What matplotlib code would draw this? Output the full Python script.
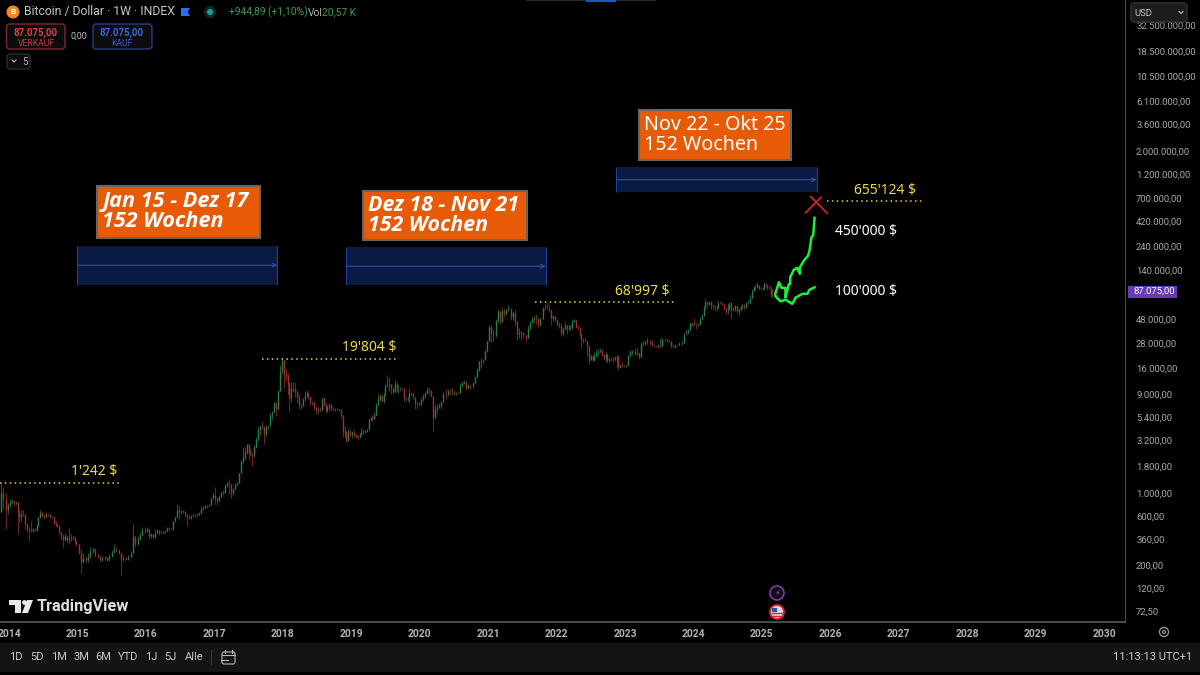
import numpy as np
import matplotlib
matplotlib.use('Agg')
import matplotlib.pyplot as plt
from matplotlib.patches import Rectangle, FancyBboxPatch, Circle, Polygon

# biweekly candles: (close, high, low)
rows_2013 = [(1000, 1242, 760), (870, 1150, 690), (680, 1000, 450), (760, 800, 620)]
rows_2014 = [(810, 880, 730), (830, 880, 780), (800, 860, 740), (810, 830, 760), (650, 720, 400), (580, 680, 520),
             (620, 680, 540), (630, 680, 600), (500, 640, 450), (450, 510, 420), (440, 480, 340), (430, 540, 420),
             (445, 460, 420), (440, 460, 425), (490, 500, 430), (580, 590, 480), (650, 680, 570), (600, 650, 590),
             (590, 620, 560), (625, 650, 590), (620, 640, 600), (590, 630, 570), (590, 600, 570), (510, 600, 490),
             (500, 530, 480), (480, 500, 470), (420, 490, 400), (380, 430, 350), (350, 400, 300), (385, 410, 340),
             (350, 390, 330), (370, 460, 320), (375, 400, 340), (370, 390, 350), (345, 380, 320), (320, 340, 310)]
rows_2015 = [(265, 300, 255), (215, 290, 166), (235, 265, 210), (225, 245, 215), (240, 265, 215), (275, 300, 235),
             (290, 300, 265), (250, 295, 240), (245, 265, 235), (225, 240, 215), (235, 245, 220), (240, 245, 225),
             (225, 240, 220), (245, 255, 220), (270, 280, 240), (290, 320, 265), (280, 300, 270), (265, 285, 255),
             (230, 270, 162), (235, 250, 220), (230, 240, 225), (240, 250, 225), (265, 275, 240), (380, 500, 300),
             (320, 385, 300), (360, 380, 315), (390, 420, 350), (435, 470, 390), (430, 465, 415)]
rows_2016 = [(450, 465, 420), (380, 460, 360), (400, 410, 365), (375, 395, 365), (410, 450, 365), (435, 445, 410),
             (415, 430, 395), (415, 425, 410), (420, 425, 410), (430, 440, 415), (460, 470, 430), (450, 470, 440),
             (445, 460, 435), (530, 540, 440), (580, 590, 525), (680, 780, 570), (650, 760, 550), (665, 680, 630),
             (660, 680, 640), (620, 665, 580), (590, 620, 480), (575, 600, 560), (600, 610, 565), (610, 625, 600),
             (610, 620, 590), (615, 640, 605), (640, 660, 620), (700, 740, 640), (720, 740, 690), (745, 770, 720),
             (740, 760, 720), (770, 790, 740), (890, 900, 770), (950, 1000, 880)]
rows_2017 = [(900, 1150, 780), (830, 920, 770), (920, 950, 880), (1010, 1030, 910), (1000, 1060, 960),
             (1180, 1210, 1000), (1250, 1300, 1130), (1230, 1350, 980), (1000, 1120, 890), (1080, 1110, 930),
             (1200, 1260, 1060), (1250, 1270, 1180), (1550, 1570, 1300), (2050, 2100, 1550), (2200, 2800, 1900),
             (2500, 2800, 2100), (2950, 3000, 2400), (2500, 2980, 2100), (2400, 2700, 2250), (2300, 2500, 1830),
             (2750, 2900, 2200), (3300, 3480, 2700), (4100, 4370, 3200), (4400, 4480, 3600), (4300, 5000, 4100),
             (3700, 4400, 2970), (4350, 4500, 3500), (4400, 4450, 4100), (5600, 5850, 4750), (6000, 6200, 5100),
             (7400, 7800, 6100), (6500, 7600, 5500), (9700, 9900, 7900), (15000, 17200, 10900), (19100, 19804, 14000)]
rows_2018 = [(14000, 17600, 10400), (13500, 15700, 12000), (11500, 14500, 9000), (8200, 11700, 6000),
             (10300, 11800, 7600), (10300, 11700, 9400), (9500, 11700, 8400), (8500, 9900, 7300), (7000, 9000, 6500),
             (7000, 7400, 6400), (8000, 8300, 6700), (8900, 9700, 7800), (9300, 9900, 8500), (8500, 9400, 8100),
             (7500, 8700, 7000), (7500, 7800, 7000), (6700, 7700, 6300), (6300, 6800, 5800), (6400, 6800, 5750),
             (6300, 6700, 6100), (8200, 8300, 6200), (7000, 8500, 6900), (6300, 7400, 5900), (6700, 7100, 6100),
             (7000, 7400, 6300), (6600, 7400, 6200), (6400, 6700, 6200), (6400, 6600, 6200), (6400, 6550, 6300),
             (6300, 6500, 6150), (5600, 6500, 5200), (3900, 5600, 3500), (4000, 4400, 3500), (3200, 3900, 3100),
             (3900, 4200, 3150), (3700, 4100, 3500)]
rows_2019 = [(3850, 4000, 3400), (3700, 4100, 3500), (3550, 3700, 3400), (3450, 3650, 3350), (3650, 3750, 3400),
             (3900, 4200, 3700), (3900, 4100, 3700), (3950, 4050, 3800), (4100, 4150, 3900), (5050, 5300, 4050),
             (5250, 5350, 4900), (5200, 5600, 5000), (5700, 6000, 5300), (7250, 7450, 5700), (8000, 8950, 6900),
             (8700, 9100, 7800), (7700, 9100, 7500), (8900, 9300, 7450), (10800, 11200, 8800), (11000, 13900, 10500),
             (11300, 13100, 9700), (10200, 11100, 9100), (9500, 10400, 9100), (11300, 12300, 9400),
             (10300, 12000, 9500), (10300, 10900, 9300), (10400, 10600, 9600), (10300, 10500, 9900), (8200, 10000, 7700),
             (8300, 8500, 7700), (8300, 8400, 7700), (9200, 10400, 7300), (9200, 9500, 8900), (8500, 9300, 8000),
             (7300, 8500, 6500), (7200, 7700, 6500), (7200, 7600, 6900)]
rows_2020 = [(8100, 8200, 6900), (8700, 9000, 7700), (9300, 9400, 8300), (9900, 10500, 9100), (9700, 10500, 8800),
             (8700, 9900, 8500), (5400, 8000, 3850), (6400, 7000, 5200), (6800, 7200, 5900), (7100, 7400, 6600),
             (7500, 7800, 6500), (9000, 9500, 7500), (8800, 10000, 8100), (9700, 10000, 8800), (9400, 10300, 8900),
             (9500, 10400, 8900), (9100, 9800, 8900), (9300, 9500, 8900), (9200, 9400, 9000), (11000, 11400, 9200),
             (11600, 12100, 10600), (11700, 12400, 11200), (10300, 12100, 9900), (10900, 11200, 10200),
             (10800, 11000, 10100), (11400, 11700, 10400), (13100, 13400, 11400), (15500, 15900, 13100),
             (18700, 18900, 15000), (19300, 19900, 16200), (19400, 19700, 17600), (23500, 24200, 19000),
             (29000, 29300, 23000)]
rows_2021 = [(40000, 41900, 29000), (35000, 42000, 28800), (33500, 38000, 29000), (46000, 48000, 32000),
             (57000, 58000, 44000), (45000, 52000, 43000), (57000, 61800, 50000), (55000, 61000, 50400),
             (58000, 60000, 52000), (60000, 64800, 57500), (50000, 61000, 47000), (55000, 57500, 47000),
             (46000, 59500, 42000), (34000, 46000, 30000), (35000, 39000, 31000), (35500, 36700, 30000),
             (33500, 36000, 31500), (31500, 33800, 29300), (39500, 42000, 31000), (44000, 45300, 37500),
             (48000, 50000, 43800), (49000, 51000, 44000), (48000, 52900, 42800), (43000, 48500, 39600),
             (48000, 50000, 41000), (61000, 62000, 48000), (61000, 67000, 58000), (61500, 68997, 59000),
             (58000, 66000, 55500), (49000, 59000, 42000), (50500, 51900, 45600), (47000, 50000, 45500)]
rows_2022 = [(41500, 47500, 40500), (42000, 44500, 39500), (35000, 43500, 33000), (38000, 40000, 33000),
             (42000, 45800, 41000), (38000, 40000, 34300), (39000, 42500, 37300), (39000, 42000, 37000),
             (44500, 48200, 38500), (46500, 48200, 44300), (40000, 47000, 39000), (39700, 42000, 38500),
             (34000, 40000, 33000), (30000, 34300, 25300), (29500, 31000, 28000), (29000, 31000, 28500),
             (26000, 30000, 20800), (19000, 26000, 17600), (21000, 22000, 19000), (19300, 21500, 18700),
             (21000, 23000, 18900), (22500, 24500, 20700), (23000, 24500, 20900), (24000, 25200, 22700),
             (21500, 24500, 20800), (20000, 21800, 19500), (21800, 22800, 18500), (19400, 20300, 18100),
             (19500, 20500, 18200), (19000, 20300, 18800), (19300, 20500, 18200), (20500, 21000, 19000),
             (21000, 21500, 16000), (16500, 17000, 15500), (17000, 17400, 16200), (16800, 18400, 16300),
             (16700, 17000, 16300)]
rows_2023 = [(17000, 17300, 16400), (20900, 21500, 16800), (22800, 23900, 20400), (23200, 24000, 21300),
             (21800, 25200, 21500), (22400, 25000, 21500), (20500, 22700, 19500), (27500, 28900, 21800),
             (28000, 29200, 26500), (28500, 30000, 27000), (29500, 31000, 27200), (28500, 30000, 27000),
             (26800, 29800, 26000), (27000, 27500, 25900), (26800, 27000, 25400), (25900, 27500, 25000),
             (26400, 31000, 26000), (30500, 31400, 29500), (30300, 31600, 29500), (29300, 30400, 29000),
             (29300, 30100, 28600), (26000, 29500, 25200), (25900, 27500, 25400), (26500, 26900, 24900),
             (26500, 27000, 26000), (27900, 28500, 26500), (28000, 29000, 26500), (34500, 35000, 27900),
             (35000, 37900, 33900), (37800, 38300, 34700), (43000, 44700, 37600), (43800, 44000, 40500)]
rows_2024 = [(42000, 48900, 41500), (41700, 43500, 38500), (42500, 43800, 41000), (48000, 50000, 42000),
             (51000, 52800, 50000), (62500, 64000, 51000), (69000, 73800, 60000), (67200, 71500, 60700),
             (69500, 71700, 64500), (64500, 72000, 60000), (63500, 67000, 59000), (62000, 64500, 56500),
             (60800, 65000, 56500), (68000, 71900, 60700), (67500, 71900, 66000), (66000, 70000, 64500),
             (61000, 65000, 58300), (58000, 62000, 53500), (59000, 66000, 53500), (68500, 69900, 58000),
             (58000, 70000, 49000), (59000, 62500, 57000), (64000, 65000, 57500), (57000, 65000, 54500),
             (60000, 60500, 52500), (63500, 64000, 57500), (65500, 66500, 60000), (62500, 66500, 59000),
             (68000, 69500, 61000), (68500, 73500, 66000), (76500, 81000, 67500), (89000, 93500, 76500),
             (97000, 99800, 88000), (97000, 104000, 90500), (101000, 108300, 95000), (94000, 100000, 92000),
             (93500, 98000, 91000)]
rows_2025 = [(94500, 98000, 91200), (105000, 109300, 90000), (102000, 106500, 97800), (96500, 102500, 91200),
             (96000, 98500, 93300), (84000, 99000, 78200), (80500, 94000, 76600), (84500, 87500, 76600),
             (87075, 88500, 80500)]
periods = [(2013.87, 2014.0, rows_2013), (2014.0, 2015.0, rows_2014), (2015.0, 2016.0, rows_2015),
           (2016.0, 2017.0, rows_2016), (2017.0, 2018.0, rows_2017), (2018.0, 2019.0, rows_2018),
           (2019.0, 2020.0, rows_2019), (2020.0, 2021.0, rows_2020), (2021.0, 2022.0, rows_2021),
           (2022.0, 2023.0, rows_2022), (2023.0, 2024.0, rows_2023), (2024.0, 2025.0, rows_2024),
           (2025.0, 2025.21, rows_2025)]

# hand drawn projections
up_dates = [2025.20, 2025.25, 2025.285, 2025.345, 2025.345, 2025.395, 2025.415, 2025.415, 2025.465, 2025.515, 2025.555,
            2025.555, 2025.615, 2025.675, 2025.695, 2025.725, 2025.75, 2025.77]
up_prices = [85000, 108000, 95500, 95500, 77000, 104000, 104000, 121000, 142000, 149000, 130000, 150000, 175000,
             195000, 215000, 294000, 305000, 452000]
low_dates = [2025.20, 2025.235, 2025.275, 2025.345, 2025.445, 2025.495, 2025.595, 2025.665, 2025.695, 2025.77]
low_prices = [80000, 74700, 70800, 73100, 66800, 76900, 83600, 83600, 91300, 96600]

# cycle boxes: start, end, low, high
boxes = [(2015.0, 2017.92, 102000, 244000), (2018.92, 2021.84, 102000, 234000), (2022.87, 2025.80, 795000, 1400000)]
# dotted tops: start, end, price
tops = [(2013.87, 2015.65, 1242), (2017.69, 2019.70, 19804), (2021.68, 2023.73, 68997), (2025.95, 2027.34, 655124)]

price_ticks = [72.5, 120, 200, 360, 600, 1000, 1800, 3200, 5400, 9000, 16000, 28000, 48000, 140000, 240000, 420000,
               700000, 1200000, 2000000, 3600000, 6100000, 10500000, 18500000, 32500000]
year_ticks = list(range(2014, 2031))
range_buttons = ['1D', '5D', '1M', '3M', '6M', 'YTD', '1J', '5J', 'Alle']
range_xs = [16, 37, 59, 81, 103, 128, 151, 170, 194]


def de(v):
    return f"{v:,.2f}".replace(",", "X").replace(".", ",").replace("X", ".")


plt.rcParams['font.family'] = ['Roboto', 'Noto Sans', 'DejaVu Sans']
fig = plt.figure(figsize=(12, 6.75), dpi=100, facecolor='black')
ax = fig.add_axes([0, 53 / 675, 1125 / 1200, 622 / 675], facecolor='black')
ax.set_yscale('log')
ax.set_xlim(2014 - 9 / 68.44, 2014 + 1116 / 68.44)
ax.set_ylim(10 ** (np.log10(72.5) - 11 / 103.6), 10 ** (np.log10(72.5) + 611 / 103.6))

prev = 650
for start, end, rows in periods:
    step = (end - start) / len(rows)
    for i, (c, h, l) in enumerate(rows):
        x = start + (i + 0.5) * step
        col = '#2b7f48' if c >= prev else '#a52f2f'
        ax.vlines(x, min(l, c, prev), max(h, c, prev), color=col, lw=0.5, zorder=2)
        ax.vlines(x, min(c, prev), max(c, prev), color=col, lw=1.0, zorder=3)
        prev = c

ax.plot(up_dates, up_prices, color='#19f03c', lw=1.8, zorder=5)
ax.plot(low_dates, low_prices, color='#19f03c', lw=1.8, zorder=5)

for x0, x1, lo, hi in boxes:
    ax.add_patch(Rectangle((x0, lo), x1 - x0, hi - lo, fc='#0a1a40', ec='none', zorder=4))
    ax.vlines([x0, x1], lo, hi, color='#1f3f9c', lw=0.8, zorder=5)
    mid = np.sqrt(lo * hi)
    ax.annotate('', xy=(x1, mid), xytext=(x0, mid), zorder=5,
                arrowprops=dict(arrowstyle='->', color='#2b55c0', lw=0.7, shrinkA=0, shrinkB=0, mutation_scale=7))

for x0, x1, p in tops:
    ax.plot([x0, x1], [p, p], color='#e6d24a', lw=1.1, ls=(0, (1, 2.2)), zorder=6)

ax.yaxis.tick_right()
ax.minorticks_off()
ax.set_yticks(price_ticks)
ax.set_yticklabels([de(v) for v in price_ticks], color='#a8a8a8', fontsize=6.8)
ax.set_xticks(year_ticks)
ax.set_xticklabels(year_ticks, color='#b4b4b4', fontsize=7.4, fontweight='bold')
ax.tick_params(axis='y', length=0, pad=8)
ax.tick_params(axis='x', length=0, pad=5)
for s in ['top', 'left']:
    ax.spines[s].set_visible(False)
ax.spines['right'].set_color('#4a4a4a')
ax.spines['bottom'].set_color('#5a5a5a')
ax.spines['bottom'].set_linewidth(1.2)

# overlay in pixels for the tradingview chrome and the annotations
ov = fig.add_axes([0, 0, 1, 1], facecolor='none')
ov.set_xlim(0, 1200)
ov.set_ylim(675, 0)
ov.axis('off')


def txt(x, y, s, color='white', size=8, ha='left', **kw):
    ov.text(x, y, s, color=color, fontsize=size, ha=ha, va='center', **kw)


def rbox(x0, y0, x1, y1, ec, fc='#0c0c0c', lw=1.0):
    ov.add_patch(FancyBboxPatch((x0, y0), x1 - x0, y1 - y0, boxstyle='round,pad=0,rounding_size=3', fc=fc, ec=ec, lw=lw))


# bottom toolbar
ov.add_patch(Rectangle((0, 643), 1200, 29, fc='#141414', ec='none'))
for b, bx in zip(range_buttons, range_xs):
    txt(bx, 657, b, '#c8c8c8', 8, ha='center')
ov.plot([211, 211], [650, 664], color='#3a3a3a', lw=0.8)
ov.add_patch(FancyBboxPatch((222, 652), 13, 12, boxstyle='round,pad=0,rounding_size=2', fc='none', ec='#b8b8b8', lw=0.8))
ov.plot([222, 235], [655, 655], color='#b8b8b8', lw=0.8)
ov.plot([225, 225], [650, 653], color='#b8b8b8', lw=0.8)
ov.plot([232, 232], [650, 653], color='#b8b8b8', lw=0.8)
ov.plot([221, 228], [660, 660], color='#b8b8b8', lw=0.8)
txt(1192, 657, '11:13:13 UTC+1', '#d0d0d0', 8, ha='right')
ov.add_patch(Circle((1164, 632), 4.5, fc='none', ec='#a0a0a0', lw=0.9))
ov.add_patch(Circle((1164, 632), 1.5, fc='none', ec='#a0a0a0', lw=0.8))

# header
ov.add_patch(Circle((13, 12), 6.5, fc='#f08a1d', ec='none'))
txt(13, 12, 'B', 'white', 6, ha='center', fontweight='bold')
txt(24, 12, 'Bitcoin / Dollar · 1W · INDEX', '#c4c4c4', 8.8)
ov.add_patch(Polygon([(181, 8), (190, 8), (187.5, 12), (190, 16), (181, 16)], fc='#2a6ff0', ec='none'))
ov.add_patch(Circle((210, 12), 6, fc='#0b2a26', ec='none'))
ov.add_patch(Circle((210, 12), 3, fc='#14a88a', ec='none'))
txt(229, 12.5, '+944,89 (+1,10%)', '#3e9a55', 7.4)
txt(308, 12.5, 'Vol', '#b0b0b0', 7.4)
txt(322, 12.5, '20,57 K', '#3e9a55', 7.4)
rbox(6.5, 24, 65, 49, '#7a2a30')
txt(36, 32.5, '87.075,00', '#d8404a', 7, ha='center', fontweight='bold')
txt(36, 43, 'VERKAUF', '#c23a44', 6.2, ha='center')
txt(79, 36, '0,00', '#c0c0c0', 6.4, ha='center')
rbox(93, 24, 152, 49, '#25407a')
txt(122, 32.5, '87.075,00', '#3a66e0', 7, ha='center', fontweight='bold')
txt(122, 43, 'KAUF', '#3560d0', 6.2, ha='center')
rbox(7, 54, 30, 69, '#2a2a2a')
txt(25, 62, '5', '#b8b8b8', 7, ha='center')
ov.plot([12, 14, 16], [60, 62, 60], color='#c0c0c0', lw=0.8)
ov.add_patch(Rectangle((526, 0), 130, 1.2, fc='#2a2a2a', ec='none'))
ov.add_patch(Rectangle((586, 0), 30, 1.5, fc='#1c56c8', ec='none'))

# USD selector and last price tag
rbox(1131, 3, 1187, 22, '#333333', fc='#1c1c1c')
txt(1134, 13, 'USD', '#c8c8c8', 6.8)
ov.plot([1179, 1181, 1183], [11.5, 13.5, 11.5], color='#c0c0c0', lw=0.8)
ov.add_patch(Rectangle((1128, 286), 49, 11.5, fc='#673ab7', ec='none'))
txt(1154.5, 291.5, '87.075,00', 'white', 6.8, ha='center')

# cycle labels
for x0, y0, x1, y1, s, fam, style, weight, size in [
        (97, 185.5, 260, 237.5, 'Jan 15 - Dez 17\n152 Wochen', 'Open Sans', 'italic', 'bold', 15.6),
        (363, 191, 527, 240, 'Dez 18 - Nov 21\n152 Wochen', 'Open Sans', 'italic', 'bold', 15.4),
        (639, 110, 791, 160, 'Nov 22 - Okt 25\n152 Wochen', 'Noto Sans', 'normal', 'normal', 14.2)]:
    ov.add_patch(Rectangle((x0, y0), x1 - x0, y1 - y0, fc='#e85a06', ec='#666666', lw=1.5))
    ov.text(x0 + 5, (y0 + y1) / 2, s, color='white', fontsize=size, family=fam, fontstyle=style, fontweight=weight,
            va='center', ha='left', linespacing=0.95)

# price labels
for x, y, s, col in [(94, 472, "1'242 $", '#ecd94e'), (369, 347.5, "19'804 $", '#ecd94e'),
                     (642, 291.5, "68'997 $", '#ecd94e'), (885, 190.5, "655'124 $", '#ecd94e'),
                     (866, 231, "450'000 $", 'white'), (866, 291, "100'000 $", 'white')]:
    txt(x, y, s, col, 10, ha='center', family='Noto Sans')

# red cross on the target
ov.plot([805.7, 821], [212.7, 197.3], color='#d8202a', lw=1.3)
ov.plot([810.7, 827.3], [196.7, 213.3], color='#d8202a', lw=1.3)

# tradingview logo
ov.add_patch(Polygon([(9, 600), (21, 600), (21, 613), (15, 613), (15, 605), (9, 605)], fc='#e8e8e8', ec='none'))
ov.add_patch(Circle((24.5, 602.5), 2.4, fc='#e8e8e8', ec='none'))
ov.add_patch(Polygon([(27, 600), (33, 600), (28, 613), (22, 613)], fc='#e8e8e8', ec='none'))
txt(37, 606, 'TradingView', '#e0e0e0', 11.7, fontweight='bold')

# event icons
ov.add_patch(Circle((777, 593), 7, fc='#14081c', ec='#8a3fa8', lw=1.1))
txt(777, 593, '⚡', '#8a5fb8', 6, ha='center', family='DejaVu Sans')
ov.add_patch(Circle((777, 612), 7, fc='#d8d8e8', ec='#d8262c', lw=1.3))
ov.add_patch(Rectangle((772, 608), 5, 4, fc='#2a4fa8', ec='none'))
ov.plot([772, 782], [613, 613], color='#d8262c', lw=1)
ov.plot([772, 782], [615.5, 615.5], color='#d8262c', lw=1)

fig.savefig('out.png', dpi=100, facecolor='black')
